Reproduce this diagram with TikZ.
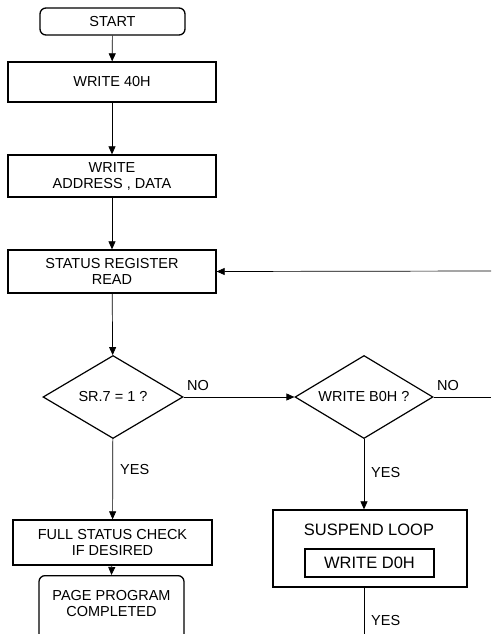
\documentclass[tikz,border=0pt]{standalone}
\usepackage{fontspec}
\setmainfont{Liberation Sans}
\usetikzlibrary{shapes.geometric,arrows.meta}
\begin{document}
\begin{tikzpicture}[x=1pt,y=-1pt,
  font=\fontsize{14.5}{16}\selectfont,
  box/.style={draw,line width=1.3pt,inner sep=0pt,align=center},
  term/.style={box,rounded corners=6pt},
  decision/.style={draw,line width=1.2pt,diamond,inner sep=0pt,minimum width=140pt,minimum height=83pt},
  flow/.style={line width=0.7pt,-{Triangle[length=8pt,width=7pt]}},
  plain/.style={line width=0.7pt},
  lbl/.style={inner sep=0pt,anchor=west},
  bigtext/.style={font=\fontsize{16.5}{18}\selectfont}]
\useasboundingbox (0,0) rectangle (491,634);
\clip (0,0) rectangle (491,634);

% left column
\node[term,minimum width=145pt,minimum height=27pt] (start) at (112.5,21.5) {START};
\node[box,minimum width=208pt,minimum height=40pt] (w40) at (112,82) {WRITE 40H};
\node[box,minimum width=208pt,minimum height=42pt] (wad) at (112,176) {WRITE\\ADDRESS , DATA};
\node[box,minimum width=208pt,minimum height=43pt] (srr) at (112,271.5) {STATUS REGISTER\\READ};
\node[decision] (sr7) at (113,397) {\makebox[0pt]{SR.7 = 1 ?}};
\node[box,minimum width=199pt,minimum height=45pt] (fsc) at (112.5,542.5) {FULL STATUS CHECK\\IF DESIRED};
\node[term,minimum width=145pt,minimum height=70pt,anchor=north] (ppc) at (111.5,575) {};
\node[align=center,inner sep=0pt] (ppct) at (111.5,604) {PAGE PROGRAM\\COMPLETED};

% right column
\node[decision,minimum width=138pt] (wb0) at (364,397) {\makebox[0pt]{WRITE B0H ?}};
\node[box,minimum width=194pt,minimum height=77pt] (sus) at (370,548.5) {};
\node[bigtext,inner sep=0pt] (sust) at (369,530) {SUSPEND LOOP};
\node[box,bigtext,line width=1.2pt,minimum width=129pt,minimum height=28pt] (wd0) at (369.5,563) {WRITE D0H};

% loose ends at the picture border
\coordinate (ret) at (491,271);
\coordinate (noend) at (491,397);
\coordinate (down) at (364,640);

% connectors
\draw[flow] (start) -- (w40);
\draw[flow] (w40) -- (wad);
\draw[flow] (wad) -- (srr);
\draw[flow] (srr) -- (sr7);
\draw[flow] (sr7) -- (fsc);
\draw[flow] (fsc) -- (ppc.north);
\draw[flow] (sr7.east) -- (wb0.west);
\draw[plain] (wb0.east) -- (noend);
\draw[flow] (wb0.south) -- (wb0.south |- sus.north);
\draw[plain] (wb0.south |- sus.south) -- (down);
\draw[flow] (ret) -- (srr.east);

% branch labels
\node[lbl] (yes1) at (120,470) {YES};
\node[lbl] (no1) at (187,386) {NO};
\node[lbl] (no2) at (437,386) {NO};
\node[lbl] (yes2) at (371,473) {YES};
\node[lbl] (yes3) at (371,620) {YES};
\end{tikzpicture}
\end{document}
